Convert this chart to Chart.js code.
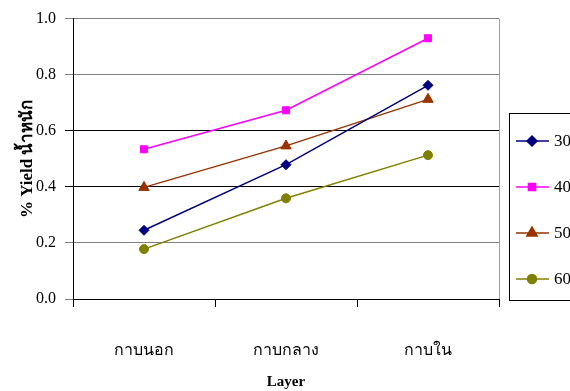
<!DOCTYPE html>
<html>
<head>
<meta charset="utf-8">
<script src="https://cdn.jsdelivr.net/npm/chart.js@4/dist/chart.umd.min.js"></script>
<style>
  html, body { margin: 0; padding: 0; background: #fff; }
  #wrap { width: 570px; height: 391px; position: relative; }
</style>
</head>
<body>
<div id="wrap"><canvas id="c" width="570" height="391"></canvas></div>
<script>
// Layers of the sample
const layers = ['กาบนอก', 'กาบกลาง', 'กาบใน'];

// % yield by weight for each series
const series30 = [0.245, 0.479, 0.762];
const series40 = [0.534, 0.673, 0.930];
const series50 = [0.398, 0.546, 0.712];
const series60 = [0.178, 0.359, 0.513];

const seriesNames = ['30', '40', '50', '60'];
const yTicks = [0.0, 0.2, 0.4, 0.6, 0.8, 1.0];

const serif = "'Liberation Serif', 'Times New Roman', serif";

const styles = [
  { color: '#000080', pointStyle: 'rectRot', radius: 5 },
  { color: '#FF00FF', pointStyle: 'rect', radius: 5 },
  { color: '#993300', pointStyle: 'triangle', radius: 6 },
  { color: '#808000', pointStyle: 'circle', radius: 4.5 }
];

const values = [series30, series40, series50, series60];

const datasets = values.map((v, i) => ({
  label: seriesNames[i],
  data: v,
  borderColor: styles[i].color,
  backgroundColor: styles[i].color,
  borderWidth: 1.5,
  pointStyle: styles[i].pointStyle,
  pointRadius: styles[i].radius,
  pointHoverRadius: styles[i].radius,
  pointBorderWidth: 1,
  tension: 0
}));

// Boxed legend at the right edge, line + marker per series
const boxLegend = {
  id: 'boxLegend',
  afterDraw(chart) {
    const ctx = chart.ctx;
    const x0 = 509, y0 = 113, x1 = 575, y1 = 300;
    ctx.save();
    ctx.strokeStyle = '#000';
    ctx.lineWidth = 1;
    ctx.strokeRect(x0 + 0.5, y0 + 0.5, x1 - x0, y1 - y0);
    const rows = [141, 187, 233, 279];
    chart.data.datasets.forEach((ds, i) => {
      const y = rows[i];
      ctx.strokeStyle = ds.borderColor;
      ctx.lineWidth = 1.5;
      ctx.beginPath();
      ctx.moveTo(516, y);
      ctx.lineTo(549, y);
      ctx.stroke();
      ctx.fillStyle = ds.backgroundColor;
      if (Chart.helpers && Chart.helpers.drawPoint) {
        Chart.helpers.drawPoint(ctx, {
          pointStyle: ds.pointStyle,
          radius: ds.pointRadius,
          rotation: 0,
          borderWidth: 1
        }, 532, y);
      }
      ctx.fillStyle = '#000';
      ctx.font = '17px ' + serif;
      ctx.textBaseline = 'middle';
      ctx.textAlign = 'left';
      ctx.fillText(ds.label, 554, y + 1);
    });
    ctx.restore();
  }
};

// Right edge of the plot area
const plotFrame = {
  id: 'plotFrame',
  afterDatasetsDraw(chart) {
    const a = chart.chartArea;
    const ctx = chart.ctx;
    ctx.save();
    ctx.strokeStyle = '#a0a0a0';
    ctx.lineWidth = 1;
    ctx.beginPath();
    ctx.moveTo(a.right + 0.5, a.top);
    ctx.lineTo(a.right + 0.5, a.bottom);
    ctx.stroke();
    ctx.restore();
  }
};

new Chart(document.getElementById('c'), {
  type: 'line',
  data: { labels: layers, datasets },
  plugins: [boxLegend, plotFrame],
  options: {
    responsive: false,
    animation: false,
    devicePixelRatio: 1,
    layout: { padding: { left: 0, right: 71, top: 17, bottom: 0 } },
    plugins: {
      legend: { display: false },
      tooltip: { enabled: false }
    },
    scales: {
      x: {
        type: 'category',
        offset: true,
        grid: {
          offset: true,
          drawOnChartArea: false,
          drawTicks: true,
          tickLength: 8,
          color: '#000'
        },
        border: { display: true, color: '#000', width: 1 },
        ticks: {
          color: '#000',
          padding: 34,
          font: { family: serif, size: 16 }
        },
        title: {
          display: true,
          text: 'Layer',
          color: '#000',
          font: { family: serif, size: 15, weight: 'bold' },
          padding: { top: 0, bottom: 0 }
        },
        afterFit(scale) { scale.height = 92; }
      },
      y: {
        min: 0,
        max: 1,
        afterBuildTicks(scale) { scale.ticks = yTicks.map(v => ({ value: v })); },
        grid: {
          drawTicks: true,
          tickLength: 8,
          color(ctx) {
            const v = ctx.tick ? ctx.tick.value : 0;
            return (Math.abs(v - 0.4) < 1e-6 || Math.abs(v - 0.6) < 1e-6) ? '#000' : '#808080';
          }
        },
        border: { display: true, color: '#000', width: 1 },
        ticks: {
          color: '#000',
          padding: 9,
          font: { family: serif, size: 16 },
          callback: v => Number(v).toFixed(1)
        },
        title: {
          display: true,
          text: '% Yield น้ำหนัก',
          color: '#000',
          font: { family: serif, size: 17, weight: 'bold' },
          padding: { top: 17, bottom: 0 }
        },
        afterFit(scale) { scale.width = 73; }
      }
    }
  }
});
</script>
</body>
</html>
